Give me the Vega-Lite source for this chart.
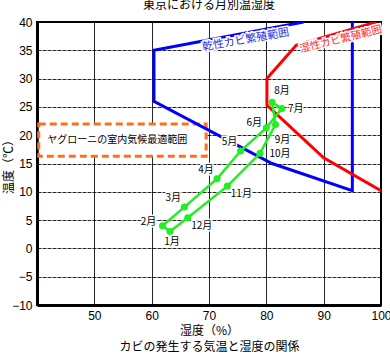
{
  "$schema": "https://vega.github.io/schema/vega-lite/v6.json",
  "width": 344,
  "height": 283,
  "autosize": {"type": "none"},
  "padding": {"left": 37, "top": 22, "right": 9, "bottom": 51},
  "background": "white",
  "config": {
    "font": "Noto Sans CJK JP",
    "view": {"stroke": "black", "strokeWidth": 2},
    "axis": {
      "domainColor": "black",
      "domainWidth": 3,
      "ticks": false,
      "grid": true,
      "gridColor": "black",
      "gridWidth": 1,
      "gridOpacity": 0.85,
      "labelFontSize": 12,
      "labelColor": "black",
      "labelFont": "Liberation Sans",
      "labelOverlap": false,
      "titleFontSize": 12,
      "titleFontWeight": "normal",
      "titleColor": "black"
    }
  },
  "title": {"text": "東京における月別温湿度", "fontSize": 12, "fontWeight": "normal", "color": "black", "offset": 4, "anchor": "middle"},
  "datasets": {
    "months": [
      {"m": 1, "month": "1月", "humidity": 63.2, "temp": 3.0},
      {"m": 2, "month": "2月", "humidity": 61.9, "temp": 4.0},
      {"m": 3, "month": "3月", "humidity": 65.7, "temp": 7.3},
      {"m": 4, "month": "4月", "humidity": 71.4, "temp": 12.3},
      {"m": 5, "month": "5月", "humidity": 75.5, "temp": 17.2},
      {"m": 6, "month": "6月", "humidity": 80.0, "temp": 21.3},
      {"m": 7, "month": "7月", "humidity": 82.7, "temp": 24.7},
      {"m": 8, "month": "8月", "humidity": 81.0, "temp": 25.8},
      {"m": 9, "month": "9月", "humidity": 81.6, "temp": 21.9},
      {"m": 10, "month": "10月", "humidity": 78.9, "temp": 16.8},
      {"m": 11, "month": "11月", "humidity": 73.2, "temp": 11.0},
      {"m": 12, "month": "12月", "humidity": 66.3, "temp": 5.4}
    ],
    "dry": [
      {"i": 1, "humidity": 86.5, "temp": 40},
      {"i": 2, "humidity": 60.4, "temp": 35},
      {"i": 3, "humidity": 60.4, "temp": 26},
      {"i": 4, "humidity": 81, "temp": 15},
      {"i": 5, "humidity": 95, "temp": 10.2},
      {"i": 6, "humidity": 95, "temp": 40}
    ],
    "wet": [
      {"i": 1, "humidity": 99.2, "temp": 40},
      {"i": 2, "humidity": 85.2, "temp": 35.9},
      {"i": 3, "humidity": 80.1, "temp": 30},
      {"i": 4, "humidity": 80.1, "temp": 25.3},
      {"i": 5, "humidity": 90, "temp": 16},
      {"i": 6, "humidity": 100, "temp": 10.2}
    ]
  },
  "layer": [
    {
      "data": {"values": [{"humidity": 40.3, "humidity2": 69.5, "temp": 16.3, "temp2": 22}]},
      "mark": {"type": "rect", "fill": "white", "stroke": "#FF6F1F", "strokeWidth": 3, "strokeDash": [7, 4]},
      "encoding": {
        "x": {"field": "humidity", "type": "quantitative",
              "scale": {"domain": [40, 100], "nice": false, "zero": false},
              "axis": {"values": [50, 60, 70, 80, 90, 100], "labelFlush": false, "labelPadding": 5,
                       "title": ["湿度（%）", "カビの発生する気温と湿度の関係"], "titleFontSize": 12, "titleLineHeight": 16, "titlePadding": 4}},
        "x2": {"field": "humidity2"},
        "y": {"field": "temp", "type": "quantitative",
              "scale": {"domain": [-10, 40], "nice": false, "zero": false},
              "axis": {"values": [-10, -5, 0, 5, 10, 15, 20, 25, 30, 35, 40], "tickCount": 11, "labelPadding": 5,
                       "gridDash": [4, 1], "title": "温度（℃）", "titleX": -29, "titleBaseline": "middle"}},
        "y2": {"field": "temp2"}
      }
    },
    {
      "data": {"values": [{"humidity": 54, "temp": 19.1, "label": "ヤグローニの室内気候最適範囲"}]},
      "mark": {"type": "text", "fontSize": 10, "color": "black", "align": "center", "baseline": "middle"},
      "encoding": {
        "x": {"field": "humidity", "type": "quantitative"},
        "y": {"field": "temp", "type": "quantitative"},
        "text": {"field": "label"}
      }
    },
    {
      "data": {"name": "dry"},
      "mark": {"type": "line", "color": "#0000FF", "strokeWidth": 3, "clip": true},
      "encoding": {
        "x": {"field": "humidity", "type": "quantitative"},
        "y": {"field": "temp", "type": "quantitative"},
        "order": {"field": "i"}
      }
    },
    {
      "data": {"name": "wet"},
      "mark": {"type": "line", "color": "#FF0000", "strokeWidth": 3, "clip": true},
      "encoding": {
        "x": {"field": "humidity", "type": "quantitative"},
        "y": {"field": "temp", "type": "quantitative"},
        "order": {"field": "i"}
      }
    },
    {
      "data": {"name": "months"},
      "mark": {"type": "line", "color": "#22EE22", "strokeWidth": 2.5, "interpolate": "linear-closed"},
      "encoding": {
        "x": {"field": "humidity", "type": "quantitative"},
        "y": {"field": "temp", "type": "quantitative"},
        "order": {"field": "m"}
      }
    },
    {
      "data": {"name": "months"},
      "mark": {"type": "circle", "color": "#22EE22", "size": 50, "opacity": 1},
      "encoding": {
        "x": {"field": "humidity", "type": "quantitative"},
        "y": {"field": "temp", "type": "quantitative"}
      }
    },
    {
      "data": {"name": "months"},
      "transform": [{"filter": {"field": "m", "oneOf": [1]}}],
      "encoding": {"x": {"field": "humidity", "type": "quantitative"}, "y": {"field": "temp", "type": "quantitative"}, "text": {"field": "month"}},
      "layer": [
        {"mark": {"type": "text", "dx": 2, "dy": 11, "fontSize": 10, "stroke": "white", "strokeWidth": 3}},
        {"mark": {"type": "text", "dx": 2, "dy": 11, "fontSize": 10, "color": "black"}}
      ]
    },
    {
      "data": {"name": "months"},
      "transform": [{"filter": {"field": "m", "oneOf": [2]}}],
      "encoding": {"x": {"field": "humidity", "type": "quantitative"}, "y": {"field": "temp", "type": "quantitative"}, "text": {"field": "month"}},
      "layer": [
        {"mark": {"type": "text", "dx": -14, "dy": -4, "fontSize": 10, "stroke": "white", "strokeWidth": 3}},
        {"mark": {"type": "text", "dx": -14, "dy": -4, "fontSize": 10, "color": "black"}}
      ]
    },
    {
      "data": {"name": "months"},
      "transform": [{"filter": {"field": "m", "oneOf": [3, 4, 5]}}],
      "encoding": {"x": {"field": "humidity", "type": "quantitative"}, "y": {"field": "temp", "type": "quantitative"}, "text": {"field": "month"}},
      "layer": [
        {"mark": {"type": "text", "dx": -11, "dy": -9, "fontSize": 10, "stroke": "white", "strokeWidth": 3}},
        {"mark": {"type": "text", "dx": -11, "dy": -9, "fontSize": 10, "color": "black"}}
      ]
    },
    {
      "data": {"name": "months"},
      "transform": [{"filter": {"field": "m", "oneOf": [6]}}],
      "encoding": {"x": {"field": "humidity", "type": "quantitative"}, "y": {"field": "temp", "type": "quantitative"}, "text": {"field": "month"}},
      "layer": [
        {"mark": {"type": "text", "dx": -12, "dy": -5, "fontSize": 10, "stroke": "white", "strokeWidth": 3}},
        {"mark": {"type": "text", "dx": -12, "dy": -5, "fontSize": 10, "color": "black"}}
      ]
    },
    {
      "data": {"name": "months"},
      "transform": [{"filter": {"field": "m", "oneOf": [7]}}],
      "encoding": {"x": {"field": "humidity", "type": "quantitative"}, "y": {"field": "temp", "type": "quantitative"}, "text": {"field": "month"}},
      "layer": [
        {"mark": {"type": "text", "dx": 14, "dy": 0, "fontSize": 10, "stroke": "white", "strokeWidth": 3}},
        {"mark": {"type": "text", "dx": 14, "dy": 0, "fontSize": 10, "color": "black"}}
      ]
    },
    {
      "data": {"name": "months"},
      "transform": [{"filter": {"field": "m", "oneOf": [8]}}],
      "encoding": {"x": {"field": "humidity", "type": "quantitative"}, "y": {"field": "temp", "type": "quantitative"}, "text": {"field": "month"}},
      "layer": [
        {"mark": {"type": "text", "dx": 10, "dy": -11, "fontSize": 10, "stroke": "white", "strokeWidth": 3}},
        {"mark": {"type": "text", "dx": 10, "dy": -11, "fontSize": 10, "color": "black"}}
      ]
    },
    {
      "data": {"name": "months"},
      "transform": [{"filter": {"field": "m", "oneOf": [9]}}],
      "encoding": {"x": {"field": "humidity", "type": "quantitative"}, "y": {"field": "temp", "type": "quantitative"}, "text": {"field": "month"}},
      "layer": [
        {"mark": {"type": "text", "dx": 7, "dy": 16, "fontSize": 10, "stroke": "white", "strokeWidth": 3}},
        {"mark": {"type": "text", "dx": 7, "dy": 16, "fontSize": 10, "color": "black"}}
      ]
    },
    {
      "data": {"name": "months"},
      "transform": [{"filter": {"field": "m", "oneOf": [10]}}],
      "encoding": {"x": {"field": "humidity", "type": "quantitative"}, "y": {"field": "temp", "type": "quantitative"}, "text": {"field": "month"}},
      "layer": [
        {"mark": {"type": "text", "dx": 20, "dy": 1, "fontSize": 10, "stroke": "white", "strokeWidth": 3}},
        {"mark": {"type": "text", "dx": 20, "dy": 1, "fontSize": 10, "color": "black"}}
      ]
    },
    {
      "data": {"name": "months"},
      "transform": [{"filter": {"field": "m", "oneOf": [11, 12]}}],
      "encoding": {"x": {"field": "humidity", "type": "quantitative"}, "y": {"field": "temp", "type": "quantitative"}, "text": {"field": "month"}},
      "layer": [
        {"mark": {"type": "text", "dx": 14, "dy": 8, "fontSize": 10, "stroke": "white", "strokeWidth": 3}},
        {"mark": {"type": "text", "dx": 14, "dy": 8, "fontSize": 10, "color": "black"}}
      ]
    },
    {
      "data": {"values": [{"humidity": 76.4, "temp": 36.8, "label": "乾性カビ繁殖範囲"}]},
      "encoding": {"x": {"field": "humidity", "type": "quantitative"}, "y": {"field": "temp", "type": "quantitative"}, "text": {"field": "label"}},
      "layer": [
        {"mark": {"type": "text", "angle": 350, "fontSize": 11, "stroke": "white", "strokeWidth": 3}},
        {"mark": {"type": "text", "angle": 350, "fontSize": 11, "color": "#2B2BE0"}}
      ]
    },
    {
      "data": {"values": [{"humidity": 93, "temp": 36.9, "label": "湿性カビ繁殖範囲"}]},
      "encoding": {"x": {"field": "humidity", "type": "quantitative"}, "y": {"field": "temp", "type": "quantitative"}, "text": {"field": "label"}},
      "layer": [
        {"mark": {"type": "text", "angle": 346, "fontSize": 10.5, "stroke": "white", "strokeWidth": 3}},
        {"mark": {"type": "text", "angle": 346, "fontSize": 10.5, "color": "#FF2B2B"}}
      ]
    }
  ]
}
